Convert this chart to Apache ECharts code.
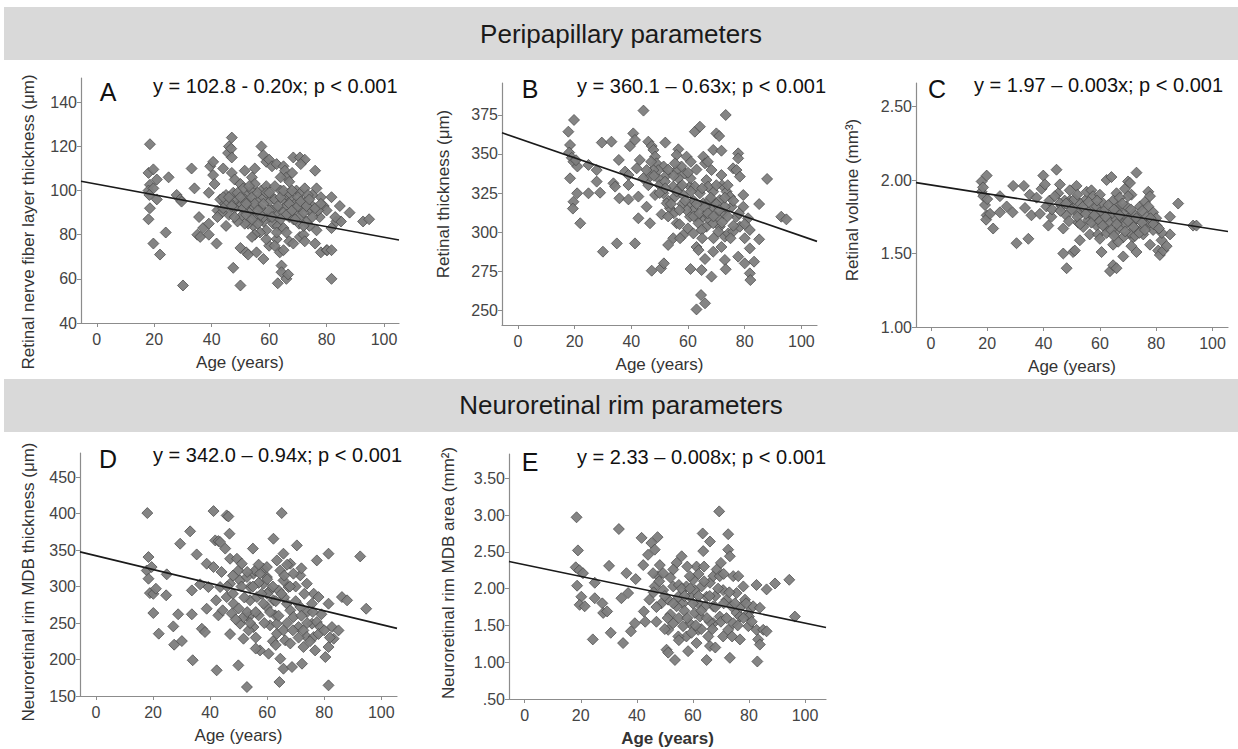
<!DOCTYPE html>
<html><head><meta charset="utf-8">
<script src="https://cdn.jsdelivr.net/npm/echarts@6/dist/echarts.min.js"></script>
<style>html,body{margin:0;padding:0;background:#fff}#c{width:1238px;height:749px}</style>
</head><body><div id="c"></div>
<script>
// ---------- data ----------
const ageTicks = [0, 20, 40, 60, 80, 100];
const ticksA = [40, 60, 80, 100, 120, 140];
const ticksB = [250, 275, 300, 325, 350, 375];
const ticksC = [1.0, 1.5, 2.0, 2.5];
const ticksD = [150, 200, 250, 300, 350, 400, 450];
const ticksE = [0.5, 1.0, 1.5, 2.0, 2.5, 3.0, 3.5];

const bannerTop = "Peripapillary parameters";
const bannerBottom = "Neuroretinal rim parameters";
const letters = ["A", "B", "C", "D", "E"];
const equations = [
  "y = 102.8 - 0.20x; p < 0.001",
  "y = 360.1 \u2013 0.63x; p < 0.001",
  "y = 1.97 \u2013 0.003x; p < 0.001",
  "y = 342.0 \u2013 0.94x; p < 0.001",
  "y = 2.33 \u2013 0.008x; p < 0.001"
];
const yNames = [
  "Retinal nerve fiber layer thickness (\u03bcm)",
  "Retinal thickness (\u03bcm)",
  "Retinal volume (mm\u00b3)",
  "Neuroretinal rim MDB thickness (\u03bcm)",
  "Neuroretinal rim MDB area (mm\u00b2)"
];
const xName = "Age (years)";

const lineA = [[-5.5, 104.2], [105.2, 77.6]];
const lineB = [[-5.6, 363.6], [105.5, 294]];
const lineC = [[-5.3, 1.982], [105.5, 1.65]];
const lineD = [[-5.6, 347.5], [105.5, 242.7]];
const lineE = [[-5.6, 2.37], [107.5, 1.473]];

const pointsA = [[18.5,121],[18,108],[19.7,109.6],[18.5,102.6],[18,100],[19.7,101],[18.3,98],[20.9,105],[20.9,96],[18.5,92],[18,87],[19.7,76],[22,71],[25,106],[24,81],[27.8,98],[29,96],[29.5,95],[30,57],[33,110],[34,101],[35.6,88],[35,80],[36,79],[37,83],[39,85],[39,99],[39.5,111],[40.5,113],[40.5,107],[41,103],[39,80],[41.7,76],[42,91],[43,96],[44,110],[45,98],[45.7,117],[46,120],[47,124],[46.8,119],[47,115],[45,84],[46,89],[47,108],[48,105],[49,94],[50,103],[47.5,65],[50,57],[50,74],[52,72],[52.7,71],[55.6,72],[51.5,109],[54,106],[55,110],[57.3,120],[58,116],[59,113],[60,114],[61,111],[62.6,112],[65,111],[65.5,109],[66,106],[67,104],[68,108],[68.4,115],[70.7,115],[72.4,114],[71,112],[76,109],[76.5,101],[78,97],[81.7,97],[84.6,93],[88,90],[92.7,86],[94.8,87],[81.7,83],[83.4,86],[79,93],[80,91],[77.6,88],[76.5,82],[76,76],[78,72],[80,73],[81.7,60],[64.3,66],[64.3,63],[63,58],[66,60],[66.6,62],[58,69],[60,75],[59,78],[62.6,78],[63.7,72],[65,73],[67,77],[68.4,76],[70.7,79],[72,80],[72.4,77],[74,84],[67,88],[69,91],[71,92],[72.7,95],[75,98],[74,91],[65,96],[62.6,92],[61,91],[60,88],[58,86],[55.6,88],[54.5,84],[52.7,85],[51.5,85],[50,88],[49,86],[54.5,93],[56,96],[57.3,100],[59,102],[61,97],[52.7,98],[54,100],[51.5,96],[50,93],[48,96],[46,95],[44.6,94],[43.5,90],[42,88],[47.5,99],[51,101],[55,103],[64,100],[66,98],[68,96],[69.5,100],[71,99],[72.4,101],[73.5,98],[68.4,87],[70.4,85],[61.4,85],[63,84],[59,82],[56.8,81],[55,80],[54,79],[62.6,81],[65,83],[66,81],[61.9,75],[58,88],[80.2,73],[81.7,73],[85,86],[83,88],[53,90],[57,92],[60,95],[63,89],[66,93],[69,94],[71,88],[73,86],[75,93],[77,91],[56,85],[62,102],[64,106],[67,99],[70,97],[48,92],[44,97],[58,97],[53,95],[65,90],[46,97],[47,93],[49,99],[50,97],[51,92],[52,89],[53,102],[54,97],[55,94],[56,99],[57,89],[58,94],[59,99],[60,91],[61,88],[62,96],[63,93],[64,97],[65,100],[66,89],[67,94],[68,91],[69,87],[70,93],[71,95],[72,90],[73,93],[74,96],[76,92],[78,94],[44,92],[48,88],[52,94],[56,91],[60,99],[64,87],[68,100],[72,84],[75,88],[54,87]];

const pointsB = [[17.8,364.3],[19.8,371.8],[18.4,355.8],[18.1,350.9],[19,347.6],[19.6,345],[21,342],[18.4,334.4],[19.6,319.4],[19.4,315],[22,305.6],[20.9,324.8],[24.9,343],[24.9,324.8],[27.8,339.7],[27.8,332.3],[29.6,357.3],[29,325.2],[30,287.4],[33,357.9],[33.7,331.2],[34.3,329.1],[34.9,292.7],[35.6,346.2],[35.8,321.6],[37.8,338.7],[39,336.5],[39,330.1],[39,320.9],[39.5,355],[40.7,363.2],[41.3,359],[41.3,292.7],[41.9,340.8],[42.5,322.7],[42.5,308.8],[43,346.2],[44.3,377.8],[45.4,316.2],[46.6,305.6],[47.2,275.2],[46,357.9],[47.2,355.1],[47.8,352.6],[48.4,348.3],[48.9,344],[49.5,334.4],[50,330],[48.4,323.7],[50.5,276.7],[51.5,279.9],[52,357.3],[51.4,342],[52.5,336.5],[51.9,332.3],[50.7,311.3],[53,320],[53.6,315.2],[53,291.7],[54.8,296],[56.6,353],[56,349.4],[56,339.7],[56.6,334.4],[55.4,322.6],[56,305.6],[58.3,298.1],[57.2,296],[59.5,348.3],[60.7,329.1],[61.3,318.4],[60,302.3],[60.9,276.3],[62.4,364.3],[64.2,367.5],[63,290.4],[63.7,288.4],[64.6,259.6],[63,250.4],[66,254.3],[64.8,275.6],[66,282.7],[65.4,348.3],[66,344],[66.5,333.3],[65.4,318.4],[65.4,309.8],[66.5,303.4],[68.3,271.4],[68.9,352.6],[68.3,339.7],[68.9,287.4],[70,363.2],[71,361.5],[71.8,352.1],[71.8,336.5],[72.5,312],[73.3,375],[73,297],[73,282.1],[73.3,276.1],[73.6,325.9],[74.8,322.7],[75.4,316.2],[75.9,340.8],[77.1,339.7],[77.7,350.4],[77.7,347.2],[78.3,335.5],[77.7,284.2],[79.5,323.7],[79.5,316.2],[80,279.9],[81.2,308.8],[81.8,301.3],[81.8,289.5],[81.8,273.5],[82,269.2],[83.3,281],[85.1,317.9],[85.1,295.3],[87.9,334],[92.9,309.8],[94.7,308.1],[57.2,329],[58.3,323.7],[61.9,314.1],[63,309.8],[63.7,305.6],[64.8,301.3],[66.5,311.9],[67.7,320.5],[68.9,316.2],[70,309.8],[71.2,303.4],[70.7,300.2],[71.8,290.4],[74.2,299.1],[75.9,300.2],[77.1,309.8],[78.3,303.4],[68.9,325.9],[67.1,329.1],[64.2,324.8],[62.4,329.1],[60.9,334.4],[58.9,337.6],[57.7,342],[55.4,344],[54.8,329.1],[52.5,318.4],[51.3,324.8],[49.5,339.7],[47.8,339.7],[46.6,335.5],[45.4,339.7],[44.2,334.4],[60.7,309.8],[59.5,314.1],[61.9,299.1],[67.7,307.7],[68.9,305.6],[71.2,320.5],[73,316.2],[20.5,346],[65,296],[69,296],[72,330],[62,320],[58,318],[55,312],[76,304],[80,296],[46,330],[48,336],[50,325],[52,328],[53,340],[54,318],[55,336],[56,326],[57,314],[58,330],[59,320],[60,338],[61,326],[62,310],[63,318],[64,312],[65,328],[66,316],[67,312],[68,322],[69,310],[70,318],[71,314],[72,306],[73,322],[74,310],[75,296],[76,320],[78,312],[80,305],[47,345],[53,310],[57,305],[63,340],[67,345],[70,330],[74,330],[61,345]];

const pointsC = [[18,1.99],[19.8,2.03],[18,1.92],[18.6,1.89],[19.2,1.83],[19.8,1.76],[19.6,1.73],[21,1.77],[22.1,1.67],[24.5,1.89],[24.5,1.78],[26.9,1.82],[29.2,1.96],[29,1.78],[30.4,1.57],[33,1.96],[33.4,1.81],[34.6,1.6],[35.1,1.9],[35.7,1.76],[37.5,1.88],[38.7,1.77],[39.3,1.94],[39.9,2.03],[40.5,1.97],[41,1.82],[41.7,1.69],[42.1,1.86],[42.8,1.75],[44.6,2.07],[45.2,1.91],[45.8,1.97],[46.4,1.82],[47,1.67],[47,1.5],[48.2,1.4],[49.3,1.93],[49.9,1.82],[50.5,1.51],[51.1,1.52],[51.7,1.96],[52.3,1.71],[52.9,1.59],[53.5,1.78],[54.7,1.86],[55.3,1.92],[55.9,1.73],[56.4,1.63],[57,1.93],[57.6,1.89],[58.2,1.81],[58.8,1.69],[59.4,1.63],[60,1.9],[60.6,1.51],[61.2,1.77],[61.8,1.68],[62.4,2.0],[64.1,2.02],[63.6,1.38],[64.7,1.42],[65.9,1.4],[64.7,1.56],[65.3,1.64],[65.9,1.91],[66.6,1.82],[67.1,1.73],[68.3,1.48],[68.9,1.94],[70,1.99],[70.7,1.98],[71.2,1.9],[71.8,1.61],[73,2.05],[73,1.51],[74.2,1.82],[76,1.85],[77.2,1.92],[77.8,1.89],[77.8,1.56],[78.9,1.78],[80.1,1.69],[80.7,1.52],[81.3,1.49],[81.9,1.59],[82.5,1.52],[83.7,1.55],[84.9,1.75],[84.9,1.63],[87.8,1.84],[93.1,1.69],[94.3,1.69],[58.8,1.82],[60,1.78],[61.2,1.84],[63,1.75],[63.6,1.71],[64.7,1.77],[65.9,1.73],[67.1,1.68],[68.3,1.77],[69.5,1.82],[70.7,1.75],[71.8,1.71],[73,1.66],[74.2,1.73],[75.4,1.68],[76.6,1.75],[77.8,1.71],[78.9,1.66],[75.4,1.63],[70.7,1.64],[68.3,1.61],[62.4,1.64],[57.6,1.75],[54.1,1.68],[51.7,1.78],[49.3,1.86],[47.5,1.86],[45.8,1.84],[44,1.89],[64.7,1.86],[70,1.89],[77.2,1.82],[66.5,1.58],[71.2,1.55],[20,1.87],[18.5,1.95],[43,1.8],[48,1.76],[53,1.84],[56,1.78],[59,1.74],[62,1.8],[66,1.79],[69,1.7],[72,1.77],[75,1.79],[80,1.74],[82,1.64],[67,1.88],[72.5,1.62],[46,1.79],[48,1.84],[50,1.8],[51,1.87],[52,1.75],[53,1.7],[54,1.82],[55,1.77],[56,1.85],[57,1.71],[58,1.76],[59,1.86],[60,1.72],[61,1.69],[62,1.75],[63,1.83],[64,1.66],[65,1.8],[66,1.7],[67,1.76],[68,1.84],[69,1.65],[70,1.72],[71,1.8],[72,1.68],[73,1.74],[74,1.64],[75,1.71],[76,1.66],[78,1.74],[79,1.7],[81,1.67],[60,1.6],[65,1.62],[52,1.9],[49,1.72]];

const pointsD = [[18,400.7],[18.4,340.4],[17.8,322],[18.4,310.7],[19.5,326.7],[18.9,291],[20.1,290],[21,297],[20.1,263.7],[22,235.4],[24.8,316.7],[24.6,288],[27.1,245.4],[27.4,220.3],[28.8,262],[29.5,358.7],[30.1,225.3],[33,375.6],[33.6,294.7],[33.6,262],[33.9,199],[35.3,344],[36.5,303],[37.1,242.2],[38.2,237.7],[38.8,331.3],[38.8,269.6],[39.4,299.3],[41.2,403.4],[41.2,326.7],[41.8,363.2],[42.1,281.1],[42.9,362.3],[43.5,361],[42.3,185.2],[42.9,260.5],[44.4,267.4],[45.3,352],[45.8,397.5],[46.4,396],[46.8,372.4],[47,338.1],[47,303.9],[47.6,262.8],[47,234.8],[49.4,338.1],[49.9,322],[50.5,308.4],[50.5,249.1],[49.9,192],[51.7,228.5],[52.9,162.3],[53.5,258.2],[54,281.1],[55,352],[55.2,317.6],[56.4,285.6],[57,260.5],[57.5,212.5],[58.7,324.4],[59.9,313],[59.9,271.9],[60.5,208],[61,246.8],[62.2,365.5],[62.8,260.5],[63.4,235.4],[64.3,169.2],[65.1,400.7],[64.6,201.1],[65.7,187.4],[66.3,226.3],[66.9,276.5],[68.1,331.3],[68.7,189.7],[70.4,356.4],[71.6,315.3],[72.2,194.3],[72.7,217.1],[73.9,303.9],[75.7,276.5],[76.3,290.2],[76.8,212.5],[77.4,335.8],[78,285.6],[80.4,203.4],[81.5,345],[81.5,276.5],[81.5,217.1],[81.5,164.6],[82.7,244.5],[83.3,228.5],[85,239.9],[86.2,285.6],[88,281.1],[92.6,341.3],[94.7,269.6],[51.1,331.3],[52.9,313],[54,299.3],[55.8,322],[57.5,317.6],[58.7,303.9],[59.9,326.7],[61,294.7],[62.2,281.1],[64,294.7],[65.7,308.4],[67.5,299.3],[69.2,317.6],[68.1,267.4],[69.2,258.2],[71,244.5],[72.7,239.9],[73.9,230.8],[75.7,249.1],[77.4,251.4],[78.6,244.5],[65.7,240],[63.4,249],[58.7,276.5],[55.2,244.5],[53.5,240],[51.7,258.2],[48.2,276.5],[45.8,285.6],[43.5,299.3],[63.4,335.8],[65.7,345],[64.6,322],[71.6,272],[68.1,222],[76.3,230.8],[57,305],[60,290],[66,285],[70,300],[74,265],[79,262],[62,225],[56,230],[67,330],[72,325],[48,315],[53,265],[46,300],[48,290],[50,270],[51,300],[52,285],[53,320],[54,250],[55,300],[56,265],[57,330],[58,290],[59,250],[60,310],[61,265],[62,300],[63,280],[64,260],[65,290],[66,315],[67,250],[68,300],[69,240],[70,280],[71,230],[72,260],[73,290],[74,250],[75,225],[76,265],[78,235],[80,240],[82,230],[44,320],[49,255],[56,215],[63,220]];

const pointsE = [[18.5,2.97],[19,2.52],[18.2,2.29],[19.5,2.25],[20.8,2.21],[18.7,2.04],[20.2,1.89],[19.6,1.78],[21.4,1.76],[24.3,1.31],[25,2.08],[25,1.87],[27.7,1.8],[28,1.67],[29.4,1.69],[30.1,2.31],[30.7,1.4],[33.6,2.81],[34.5,1.87],[35.1,1.26],[36.3,2.21],[36.9,1.94],[37.9,1.42],[39.3,1.53],[39.6,2.13],[41.7,2.69],[42.3,2.32],[42.5,1.69],[44,2.46],[45.2,2.62],[47.4,2.7],[46.4,2.53],[46.4,2.03],[47.6,2.17],[48.2,2.32],[47,1.55],[48.8,1.8],[50.6,1.17],[51.2,1.13],[51.2,1.44],[53.6,1.03],[54.2,2.35],[56,2.44],[57.7,1.35],[58.3,1.15],[58.9,1.89],[60.1,2.12],[61.3,2.3],[61.9,1.44],[63.5,2.75],[63.7,2.51],[64.9,1.03],[66.1,1.22],[66.1,2.64],[67.3,1.53],[69.4,3.05],[72.6,2.74],[72.6,2.53],[73.2,2.44],[73.2,1.06],[74.4,2.17],[75.6,1.94],[76.2,2.17],[76.8,1.31],[78,2.03],[78.6,1.85],[79.8,1.49],[81.5,1.76],[82.7,2.05],[82.7,1.44],[83,1.01],[83.3,1.31],[83.9,1.24],[83.9,1.74],[85.1,1.44],[86.3,1.42],[86.3,1.99],[89.3,2.07],[94.4,2.12],[96.4,1.62],[49.4,1.98],[51.2,1.85],[53,2.03],[54.8,1.89],[56.5,1.8],[57.7,2.03],[58.9,2.17],[60.7,1.98],[61.9,1.8],[63.1,2.03],[64.9,1.89],[66.1,2.08],[67.3,2.17],[68.5,2.26],[69.6,2.17],[70.8,1.98],[72,1.85],[73.8,1.76],[75.6,1.67],[74.4,1.53],[72.6,1.44],[70.8,1.35],[65.5,1.35],[62.5,1.62],[60.7,1.67],[58.9,1.53],[56.5,1.49],[54.8,1.35],[53,1.53],[54.2,1.76],[69.6,1.62],[76.8,1.62],[79.8,1.67],[61.3,1.26],[67.3,1.76],[64.3,1.76],[45.8,2.21],[49.4,2.21],[53,2.26],[43,1.55],[44.5,1.85],[50,1.45],[57,1.7],[59.5,1.4],[63,1.45],[68,1.9],[71,2.2],[66,1.55],[62,2.2],[55,2.05],[52,1.65],[68,1.2],[77,1.75],[80,1.62],[46,1.95],[47,1.75],[48,2.1],[50,1.9],[51,1.6],[52,2.15],[53,1.8],[55,1.6],[56,2.0],[57,1.9],[58,1.6],[59,2.0],[60,1.8],[61,1.5],[62,1.9],[63,1.7],[64,2.1],[65,1.6],[66,1.9],[67,1.45],[68,1.75],[69,2.0],[70,1.55],[71,1.8],[72,1.6],[73,1.95],[74,1.35],[75,1.8],[76,1.5],[78,1.6],[79,1.8],[81,1.55],[64,2.3],[70,2.35],[58,2.3],[55,1.3]];

// ---------- layout / style ----------
const FONT = '"Liberation Sans", Arial, sans-serif';
const TXT = '#333333';
const AX = '#8c8c8c';

const panels = [
  { grid: {left: 81, top: 78, width: 318, height: 245}, xr: [-5.5, 105.2], yr: [40, 151], yt: ticksA, fmt: v => String(v), pts: pointsA, line: lineA,
    letter: [108, 92], eq: [153, 86], yname: [28, 222] },
  { grid: {left: 502, top: 83, width: 315, height: 242}, xr: [-5.6, 105.5], yr: [240.4, 395.5], yt: ticksB, fmt: v => String(v), pts: pointsB, line: lineB,
    letter: [530, 89], eq: [577, 86], yname: [443, 194] },
  { grid: {left: 916, top: 83, width: 312, height: 244}, xr: [-5.3, 105.5], yr: [1.0, 2.66], yt: ticksC, fmt: v => v.toFixed(2), pts: pointsC, line: lineC,
    letter: [937, 89], eq: [974, 85], yname: [852, 200] },
  { grid: {left: 80, top: 453, width: 317, height: 243}, xr: [-5.6, 105.5], yr: [150, 483], yt: ticksD, fmt: v => String(v), pts: pointsD, line: lineD,
    letter: [108, 459], eq: [153, 455], yname: [28, 582] },
  { grid: {left: 509, top: 454, width: 317, height: 245}, xr: [-5.6, 107.5], yr: [0.5, 3.83], yt: ticksE, fmt: v => (v < 1 ? '.50' : v.toFixed(2)), pts: pointsE, line: lineE,
    letter: [530, 462], eq: [577, 457], yname: [448, 573], boldX: true }
];

const option = {
  animation: false,
  backgroundColor: '#ffffff',
  grid: [], xAxis: [], yAxis: [], series: [],
  graphic: []
};

// banners
[[7, 53, bannerTop, 34], [379, 53, bannerBottom, 405]].forEach(([y, h, t, ty]) => {
  option.graphic.push({ type: 'rect', shape: {x: 4, y: y, width: 1234, height: h}, style: {fill: '#d9d9d9'}, silent: true, z: 0 });
  option.graphic.push({ type: 'text', x: 621, y: ty, style: {text: t, fill: '#1a1a1a', fontSize: 26, fontFamily: FONT, align: 'center', verticalAlign: 'middle'}, z: 1 });
});

panels.forEach((p, i) => {
  option.grid.push(Object.assign({containLabel: false}, p.grid));
  option.xAxis.push({
    type: 'value', gridIndex: i, min: p.xr[0], max: p.xr[1],
    name: xName, nameLocation: 'middle', nameGap: 31,
    nameTextStyle: {fontSize: 17, color: TXT, fontFamily: FONT, fontWeight: p.boldX ? 'bold' : 'normal'},
    axisLine: {show: true, onZero: false, lineStyle: {color: AX, width: 1.2}},
    axisTick: {show: true, length: 4, inside: false, customValues: ageTicks, lineStyle: {color: AX}},
    axisLabel: {customValues: ageTicks, fontSize: 16, color: '#444', fontFamily: FONT, margin: 8},
    splitLine: {show: false}
  });
  option.yAxis.push({
    type: 'value', gridIndex: i, min: p.yr[0], max: p.yr[1],
    axisLine: {show: true, onZero: false, lineStyle: {color: AX, width: 1.2}},
    axisTick: {show: true, length: 4, inside: false, customValues: p.yt, lineStyle: {color: AX}},
    axisLabel: {customValues: p.yt, fontSize: 16, color: '#444', fontFamily: FONT, margin: 4, formatter: p.fmt},
    splitLine: {show: false}
  });
  option.series.push({
    type: 'scatter', xAxisIndex: i, yAxisIndex: i, data: p.pts,
    symbol: 'diamond', symbolSize: [11, 11],
    itemStyle: {color: '#7d7d7d', borderColor: '#4a4a4a', borderWidth: 0.8, opacity: 0.95},
    z: 2, silent: true
  });
  option.series.push({
    type: 'line', xAxisIndex: i, yAxisIndex: i, data: p.line,
    symbol: 'none', lineStyle: {color: '#1a1a1a', width: 1.6}, z: 3, silent: true
  });
  option.graphic.push({ type: 'text', x: p.letter[0], y: p.letter[1], style: {text: letters[i], fill: '#111', fontSize: 25, fontFamily: FONT, align: 'center', verticalAlign: 'middle'}, z: 5 });
  option.graphic.push({ type: 'text', x: p.eq[0], y: p.eq[1], style: {text: equations[i], fill: '#111', fontSize: 20, fontFamily: FONT, align: 'left', verticalAlign: 'middle'}, z: 5 });
  option.graphic.push({ type: 'text', x: p.yname[0], y: p.yname[1], rotation: Math.PI / 2, style: {text: yNames[i], fill: TXT, fontSize: 17, fontFamily: FONT, align: 'center', verticalAlign: 'middle'}, z: 5 });
});

const chart = echarts.init(document.getElementById('c'), null, {renderer: 'svg'});
chart.setOption(option);
</script>
</body></html>
